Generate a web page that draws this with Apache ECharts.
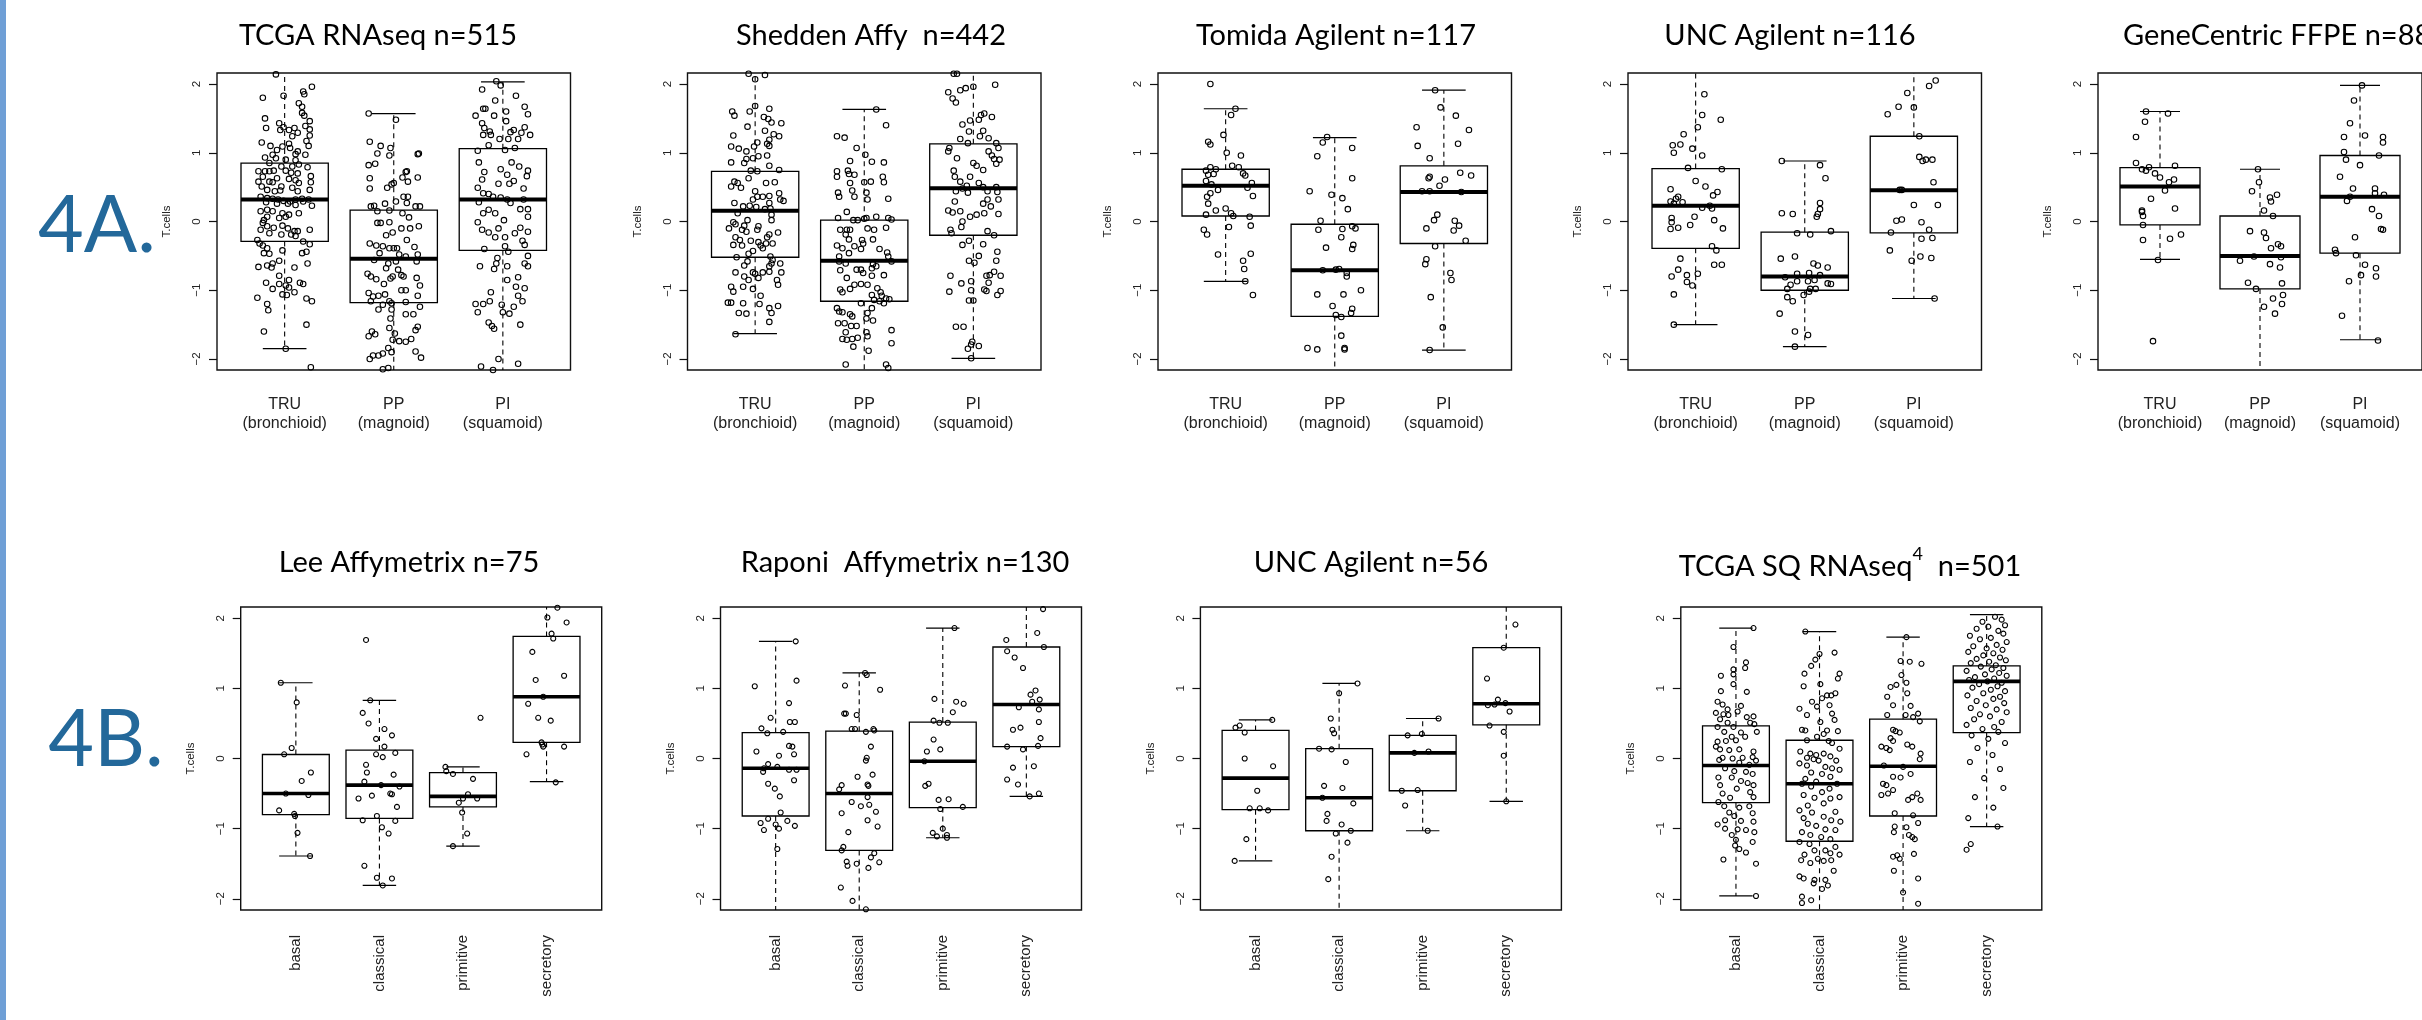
<!DOCTYPE html>
<html><head><meta charset="utf-8">
<script src="https://cdn.jsdelivr.net/npm/echarts@6/dist/echarts.min.js"></script>
<style>html,body{margin:0;padding:0;background:#fff}#c{width:2422px;height:1020px}</style>
</head><body><div id="c"></div><script>
// ================= DATA =================
const groupsA = ['TRU\n(bronchioid)', 'PP\n(magnoid)', 'PI\n(squamoid)'];
const groupsB = ['basal', 'classical', 'primitive', 'secretory'];
const yTicks = [-2, -1, 0, 1, 2];
const yAxisName = 'T.cells';
const titlesA = ['TCGA RNAseq n=515', 'Shedden Affy  n=442', 'Tomida Agilent n=117', 'UNC Agilent n=116', 'GeneCentric FFPE n=88'];
const titlesB = ['Lee Affymetrix n=75', 'Raponi  Affymetrix n=130', 'UNC Agilent n=56', ['TCGA SQ RNAseq', '4', '  n=501']];
const rowLabels = ['4A.', '4B.'];

// box stats per group: [lower whisker, Q1, median, Q3, upper whisker]
const boxA1 = [[-1.85,-0.29,0.32,0.85,2.30],[-2.30,-1.18,-0.54,0.165,1.57],[-2.30,-0.42,0.32,1.06,2.03]];
const boxA2 = [[-1.63,-0.52,0.155,0.73,2.30],[-2.30,-1.16,-0.57,0.02,1.63],[-1.99,-0.20,0.485,1.13,2.30]];
const boxA3 = [[-0.87,0.08,0.52,0.76,1.64],[-2.30,-1.38,-0.71,-0.04,1.22],[-1.87,-0.32,0.43,0.81,1.91]];
const boxA4 = [[-1.50,-0.39,0.23,0.77,2.30],[-1.82,-1.00,-0.80,-0.155,0.88],[-1.12,-0.165,0.455,1.24,2.30]];
const boxA5 = [[-0.55,-0.05,0.51,0.785,1.60],[-2.30,-0.98,-0.50,0.08,0.76],[-1.72,-0.46,0.36,0.96,1.98]];
const boxB1 = [[-1.39,-0.80,-0.50,0.057,1.08],[-1.81,-0.855,-0.38,0.12,0.83],[-1.25,-0.69,-0.54,-0.20,-0.12],[-0.33,0.23,0.88,1.74,2.30]];
const boxB2 = [[-2.30,-0.82,-0.14,0.37,1.67],[-2.30,-1.31,-0.50,0.39,1.22],[-1.13,-0.70,-0.04,0.52,1.86],[-0.54,0.17,0.77,1.59,2.30]];
const boxB3 = [[-1.46,-0.73,-0.28,0.40,0.55],[-2.30,-1.03,-0.56,0.14,1.07],[-1.03,-0.46,0.08,0.33,0.57],[-0.61,0.48,0.78,1.58,2.30]];
const boxB4 = [[-1.96,-0.63,-0.10,0.465,1.86],[-2.30,-1.18,-0.36,0.26,1.81],[-2.30,-0.82,-0.11,0.56,1.73],[-0.97,0.37,1.10,1.32,2.05]];

// jittered points per group: [jitter offset from group centre, T.cells value]
const ptsA1_TRU = [[-0.08,2.14],[-0.01,1.83],[-0.20,1.80],[0.25,1.96],[0.17,1.89],[0.18,1.85],[0.13,1.72],[0.16,1.67],[0.16,1.58],[-0.18,1.50],[0.18,1.54],[0.23,1.46],[-0.05,1.43],[-0.01,1.37],[-0.17,1.36],[0.09,1.36],[0.19,1.39],[0.23,1.34],[0.04,1.33],[-0.04,1.33],[0.12,1.29],[0.23,1.25],[0.07,1.24],[0.20,1.17],[-0.21,1.15],[0.04,1.13],[-0.13,1.10],[-0.02,1.09],[0.22,1.10],[0.05,1.07],[-0.07,1.04],[0.12,1.02],[-0.11,0.97],[0.10,0.98],[0.19,0.97],[-0.18,0.93],[-0.08,0.92],[0.01,0.90],[0.10,0.89],[-0.14,0.85],[0.13,0.83],[-0.03,0.80],[0.07,0.80],[0.21,0.79],[-0.24,0.73],[-0.18,0.73],[-0.14,0.73],[-0.10,0.74],[0.01,0.74],[0.06,0.71],[0.12,0.70],[0.24,0.66],[-0.20,0.65],[-0.07,0.63],[0.04,0.62],[0.10,0.60],[-0.24,0.58],[-0.14,0.58],[-0.11,0.57],[0.13,0.56],[0.24,0.57],[-0.21,0.51],[-0.03,0.51],[0.07,0.49],[-0.16,0.46],[-0.09,0.44],[-0.04,0.45],[0.12,0.44],[0.23,0.46],[-0.22,0.36],[-0.16,0.34],[-0.11,0.33],[-0.06,0.32],[-0.01,0.30],[0.05,0.29],[0.10,0.32],[0.16,0.33],[0.22,0.32],[-0.17,0.28],[0.03,0.26],[0.17,0.29],[0.25,0.23],[-0.07,0.26],[0.10,0.24],[-0.22,0.15],[-0.16,0.17],[-0.11,0.15],[-0.02,0.12],[0.04,0.10],[0.13,0.12],[-0.16,0.07],[-0.05,0.05],[-0.19,0.02],[0.01,0.07],[-0.20,-0.02],[-0.16,-0.07],[-0.10,-0.09],[-0.02,-0.06],[0.03,-0.10],[0.09,-0.14],[0.12,-0.14],[0.23,-0.12],[-0.22,-0.12],[-0.14,-0.17],[-0.03,-0.19],[0.06,-0.19],[0.10,-0.21],[-0.25,-0.27],[-0.23,-0.32],[-0.20,-0.35],[-0.16,-0.39],[0.17,-0.29],[0.23,-0.33],[-0.02,-0.42],[-0.19,-0.46],[-0.14,-0.47],[0.16,-0.46],[0.20,-0.44],[-0.05,-0.57],[-0.11,-0.61],[-0.16,-0.64],[-0.24,-0.66],[-0.12,-0.67],[0.09,-0.67],[0.21,-0.61],[-0.05,-0.79],[-0.17,-0.89],[0.04,-0.85],[-0.05,-0.91],[0.01,-0.93],[0.14,-0.89],[0.17,-0.91],[-0.11,-0.98],[0.04,-0.96],[-0.02,-1.06],[0.09,-1.03],[-0.25,-1.11],[0.02,-1.07],[0.20,-1.12],[0.25,-1.16],[-0.16,-1.20],[-0.15,-1.29],[0.20,-1.50],[-0.19,-1.60],[0.01,-1.85],[0.24,-2.12]];
const ptsA1_PP = [[-0.23,1.57],[0.02,1.48],[-0.22,1.16],[-0.12,1.10],[-0.03,1.07],[-0.15,0.99],[-0.04,0.96],[0.22,0.98],[0.23,0.99],[-0.23,0.82],[-0.17,0.84],[0.11,0.72],[0.12,0.73],[-0.22,0.63],[0.08,0.64],[0.22,0.64],[0.13,0.58],[-0.22,0.48],[-0.06,0.49],[-0.02,0.54],[0.00,0.56],[0.09,0.36],[0.13,0.36],[-0.21,0.22],[-0.18,0.23],[-0.08,0.26],[0.02,0.29],[0.12,0.27],[0.20,0.22],[0.24,0.22],[-0.15,0.15],[0.08,0.12],[-0.04,0.16],[0.14,0.06],[-0.15,-0.02],[-0.12,-0.02],[-0.04,-0.01],[0.07,-0.10],[0.15,-0.10],[0.23,-0.07],[-0.01,-0.16],[-0.07,-0.20],[0.12,-0.27],[-0.22,-0.32],[-0.16,-0.35],[-0.10,-0.36],[-0.04,-0.39],[0.00,-0.39],[0.03,-0.39],[0.19,-0.37],[-0.13,-0.46],[0.05,-0.48],[0.11,-0.51],[0.22,-0.48],[-0.18,-0.56],[-0.05,-0.61],[0.02,-0.58],[0.21,-0.58],[-0.07,-0.68],[0.04,-0.70],[-0.24,-0.76],[-0.21,-0.80],[-0.16,-0.84],[-0.03,-0.83],[-0.01,-0.80],[0.07,-0.78],[0.09,-0.80],[0.21,-0.82],[-0.09,-0.91],[0.07,-1.00],[0.11,-1.00],[0.24,-0.93],[-0.23,-1.04],[-0.19,-1.09],[-0.14,-1.08],[-0.08,-1.06],[-0.21,-1.16],[-0.04,-1.16],[-0.02,-1.19],[0.11,-1.17],[0.22,-1.08],[0.24,-1.24],[-0.14,-1.28],[-0.02,-1.28],[-0.10,-1.21],[0.11,-1.35],[0.18,-1.35],[-0.03,-1.41],[0.20,-1.58],[0.22,-1.53],[-0.04,-1.55],[-0.20,-1.60],[-0.17,-1.64],[-0.23,-1.67],[0.01,-1.63],[-0.01,-1.72],[0.11,-1.75],[0.16,-1.71],[0.05,-1.74],[-0.05,-1.84],[-0.02,-1.90],[-0.10,-1.92],[-0.14,-1.95],[-0.19,-1.95],[-0.22,-2.00],[0.20,-1.89],[0.25,-1.98],[-0.05,-2.13],[-0.10,-2.15]];
const ptsA1_PI = [[-0.06,2.04],[-0.02,1.98],[-0.19,1.92],[0.12,1.83],[-0.07,1.76],[-0.18,1.64],[-0.16,1.64],[0.20,1.67],[0.03,1.60],[-0.25,1.54],[-0.08,1.54],[0.23,1.56],[-0.19,1.43],[0.03,1.46],[-0.17,1.36],[-0.12,1.31],[0.10,1.33],[0.20,1.37],[-0.18,1.26],[-0.11,1.26],[-0.03,1.20],[0.05,1.20],[0.14,1.20],[0.25,1.26],[0.17,1.29],[0.07,1.30],[-0.13,1.11],[0.02,1.04],[0.11,1.07],[-0.23,1.03],[-0.22,0.86],[0.08,0.86],[0.15,0.80],[0.23,0.74],[-0.02,0.76],[-0.17,0.72],[0.04,0.68],[-0.19,0.61],[0.22,0.66],[0.10,0.59],[-0.04,0.55],[0.06,0.55],[-0.23,0.49],[0.19,0.48],[-0.18,0.41],[-0.13,0.40],[-0.09,0.36],[-0.02,0.35],[0.04,0.32],[0.19,0.32],[-0.22,0.28],[0.07,0.27],[-0.13,0.17],[0.16,0.18],[0.23,0.18],[-0.18,0.12],[-0.07,0.12],[0.01,0.02],[0.23,0.07],[-0.23,-0.01],[-0.04,-0.10],[0.16,-0.09],[0.23,-0.15],[-0.19,-0.12],[-0.13,-0.16],[-0.07,-0.23],[0.02,-0.23],[0.11,-0.17],[0.18,-0.28],[0.20,-0.34],[-0.17,-0.40],[0.02,-0.36],[0.05,-0.44],[-0.05,-0.53],[0.23,-0.50],[0.20,-0.61],[-0.06,-0.61],[-0.21,-0.65],[-0.08,-0.69],[0.04,-0.65],[0.23,-0.65],[0.14,-0.81],[0.04,-0.85],[0.12,-0.95],[0.20,-0.97],[-0.11,-1.03],[0.14,-1.08],[-0.25,-1.20],[-0.18,-1.20],[-0.12,-1.16],[-0.01,-1.21],[0.18,-1.16],[-0.23,-1.32],[0.00,-1.32],[0.06,-1.34],[0.10,-1.24],[-0.13,-1.47],[-0.10,-1.52],[-0.08,-1.56],[0.16,-1.50],[-0.04,-2.00],[-0.20,-2.11],[0.14,-2.07],[-0.09,-2.16]];

const ptsA2_TRU = [[-0.06,2.15],[0.09,2.13],[0.00,2.07],[0.00,1.68],[0.13,1.64],[-0.21,1.60],[-0.19,1.54],[-0.05,1.60],[0.08,1.52],[0.12,1.49],[0.15,1.44],[0.24,1.43],[-0.07,1.38],[0.09,1.32],[-0.20,1.25],[0.17,1.27],[0.22,1.24],[0.13,1.19],[0.11,1.13],[0.02,1.15],[-0.22,1.09],[-0.15,1.06],[-0.01,1.09],[0.13,1.10],[-0.08,1.02],[0.03,0.95],[0.11,0.96],[-0.02,0.92],[-0.08,0.91],[-0.22,0.86],[-0.10,0.85],[0.13,0.81],[0.22,0.75],[-0.04,0.74],[0.02,0.73],[-0.06,0.63],[-0.19,0.58],[-0.16,0.56],[-0.22,0.51],[0.10,0.56],[0.18,0.57],[-0.13,0.49],[0.00,0.44],[0.22,0.41],[0.02,0.36],[0.07,0.36],[0.13,0.37],[0.23,0.32],[0.26,0.30],[-0.19,0.27],[-0.02,0.32],[0.13,0.27],[-0.11,0.22],[-0.05,0.23],[0.01,0.21],[0.09,0.18],[0.14,0.19],[-0.16,0.12],[0.15,0.10],[-0.07,0.02],[-0.20,-0.01],[-0.18,-0.04],[-0.10,-0.06],[0.03,-0.07],[0.15,0.02],[-0.24,-0.10],[-0.12,-0.12],[-0.08,-0.15],[0.02,-0.12],[0.21,-0.16],[-0.18,-0.23],[0.13,-0.19],[0.11,-0.23],[-0.14,-0.27],[-0.04,-0.28],[0.03,-0.30],[0.10,-0.32],[-0.20,-0.34],[-0.12,-0.35],[0.05,-0.35],[0.07,-0.39],[0.16,-0.32],[-0.02,-0.43],[-0.06,-0.47],[0.14,-0.51],[-0.17,-0.52],[0.16,-0.56],[-0.07,-0.58],[0.15,-0.61],[0.23,-0.61],[-0.10,-0.64],[0.13,-0.65],[-0.18,-0.74],[-0.02,-0.74],[0.00,-0.76],[0.07,-0.74],[0.13,-0.73],[0.24,-0.74],[-0.10,-0.80],[-0.06,-0.85],[0.03,-0.82],[0.20,-0.85],[0.21,-0.92],[-0.11,-0.95],[-0.02,-0.98],[-0.22,-0.95],[-0.20,-1.02],[0.05,-1.08],[-0.25,-1.18],[-0.22,-1.18],[-0.11,-1.19],[0.04,-1.20],[0.21,-1.23],[0.13,-1.26],[0.15,-1.33],[-0.15,-1.33],[-0.08,-1.34],[0.13,-1.46],[-0.18,-1.64]];
const ptsA2_PP = [[0.11,1.63],[0.20,1.40],[-0.25,1.24],[-0.18,1.22],[-0.07,1.07],[0.01,0.97],[-0.13,0.88],[0.07,0.87],[0.18,0.86],[-0.25,0.73],[-0.15,0.74],[-0.25,0.65],[-0.14,0.69],[-0.09,0.68],[0.17,0.65],[-0.13,0.56],[0.00,0.57],[0.06,0.58],[0.18,0.57],[-0.24,0.42],[-0.23,0.36],[-0.11,0.45],[-0.09,0.36],[0.02,0.42],[0.03,0.32],[0.22,0.33],[-0.16,0.14],[0.02,0.05],[-0.10,0.02],[-0.06,0.02],[0.00,0.04],[0.11,0.07],[0.22,0.05],[0.25,0.03],[-0.24,0.05],[0.20,-0.09],[-0.16,-0.12],[-0.13,-0.12],[0.03,-0.10],[0.09,-0.12],[-0.22,-0.12],[-0.17,-0.19],[-0.14,-0.26],[-0.02,-0.27],[0.08,-0.26],[-0.01,-0.32],[-0.25,-0.35],[-0.20,-0.39],[-0.09,-0.36],[-0.03,-0.40],[0.14,-0.40],[0.21,-0.45],[-0.14,-0.46],[-0.23,-0.51],[0.22,-0.51],[0.25,-0.58],[-0.23,-0.58],[-0.17,-0.61],[0.08,-0.62],[0.11,-0.65],[0.07,-0.68],[-0.07,-0.70],[-0.03,-0.70],[-0.22,-0.71],[-0.01,-0.75],[0.18,-0.78],[-0.16,-0.82],[0.07,-0.79],[0.03,-0.92],[-0.03,-0.91],[-0.09,-0.92],[-0.13,-0.98],[-0.22,-0.99],[-0.20,-1.03],[0.12,-0.97],[0.15,-1.03],[0.16,-1.08],[0.20,-1.12],[0.07,-1.07],[-0.03,-1.19],[0.09,-1.14],[0.14,-1.16],[0.18,-1.19],[0.23,-1.13],[-0.25,-1.26],[0.07,-1.26],[-0.23,-1.31],[-0.20,-1.32],[-0.13,-1.35],[0.03,-1.33],[0.02,-1.41],[0.08,-1.44],[-0.11,-1.38],[-0.24,-1.48],[-0.18,-1.48],[-0.12,-1.52],[-0.07,-1.52],[0.02,-1.61],[-0.17,-1.61],[0.25,-1.58],[0.03,-1.67],[-0.16,-1.72],[-0.11,-1.71],[-0.20,-1.71],[-0.06,-1.69],[0.25,-1.77],[-0.10,-1.82],[0.04,-1.88],[-0.17,-2.08],[0.20,-2.08],[0.22,-2.13]];
const ptsA2_PI = [[-0.18,2.15],[-0.15,2.15],[0.19,2.17],[0.20,1.99],[0.00,1.96],[-0.07,1.94],[-0.12,1.91],[-0.23,1.88],[-0.19,1.79],[-0.16,1.73],[0.07,1.55],[0.10,1.57],[0.17,1.52],[-0.03,1.47],[0.05,1.48],[-0.10,1.41],[-0.04,1.31],[0.09,1.32],[0.06,1.24],[-0.12,1.20],[-0.05,1.14],[0.14,1.21],[0.21,1.14],[0.23,1.07],[-0.22,1.07],[-0.23,1.02],[0.14,1.02],[0.17,0.96],[0.19,0.91],[0.24,0.90],[0.21,0.84],[-0.15,0.92],[0.00,0.85],[0.03,0.81],[0.09,0.75],[-0.18,0.74],[-0.17,0.65],[-0.03,0.65],[-0.12,0.58],[0.05,0.56],[-0.06,0.52],[-0.10,0.48],[0.09,0.50],[0.21,0.50],[-0.16,0.44],[-0.05,0.42],[0.13,0.44],[0.22,0.43],[-0.17,0.29],[0.09,0.26],[0.23,0.32],[0.13,0.32],[0.16,0.22],[-0.23,0.16],[-0.19,0.13],[-0.12,0.15],[0.03,0.10],[0.10,0.12],[0.23,0.11],[-0.03,0.07],[-0.10,0.00],[-0.21,-0.12],[-0.20,-0.17],[-0.11,-0.08],[0.13,-0.14],[0.19,-0.20],[-0.04,-0.28],[-0.10,-0.34],[0.09,-0.33],[0.22,-0.44],[0.05,-0.50],[-0.04,-0.57],[0.01,-0.60],[0.21,-0.57],[0.19,-0.73],[0.15,-0.78],[0.12,-0.79],[-0.21,-0.79],[0.25,-0.79],[0.14,-0.89],[-0.11,-0.90],[-0.02,-0.87],[0.10,-0.99],[0.12,-1.01],[-0.02,-1.00],[-0.22,-1.02],[0.25,-1.01],[0.22,-1.07],[-0.04,-1.15],[0.00,-1.15],[-0.16,-1.53],[-0.09,-1.53],[-0.01,-1.75],[-0.02,-1.79],[0.05,-1.81],[-0.05,-1.85],[-0.02,-1.99]];

const ptsA3_TRU = [[-0.14,2.00],[0.09,1.64],[0.05,1.55],[-0.02,1.26],[-0.16,1.16],[-0.14,1.12],[0.01,1.00],[0.14,0.96],[0.06,0.81],[0.12,0.79],[-0.14,0.79],[-0.09,0.76],[-0.18,0.74],[-0.16,0.68],[0.16,0.70],[0.18,0.67],[-0.11,0.69],[-0.18,0.59],[-0.13,0.54],[0.24,0.56],[0.20,0.49],[-0.07,0.46],[-0.14,0.41],[0.25,0.37],[-0.17,0.36],[-0.16,0.26],[0.00,0.19],[-0.09,0.16],[0.05,0.12],[0.07,0.08],[-0.18,0.10],[0.22,0.07],[0.03,-0.08],[0.23,-0.06],[-0.20,-0.12],[-0.17,-0.19],[0.23,-0.47],[-0.07,-0.48],[0.16,-0.57],[0.17,-0.69],[0.18,-0.87],[0.25,-1.07]];
const ptsA3_PP = [[-0.07,1.23],[-0.11,1.15],[0.16,1.07],[-0.16,0.95],[0.16,0.63],[-0.23,0.44],[-0.03,0.39],[0.07,0.34],[0.12,0.18],[-0.13,0.01],[-0.15,-0.12],[0.07,-0.11],[0.16,-0.07],[0.19,-0.10],[0.06,-0.23],[0.17,-0.34],[0.16,-0.40],[-0.08,-0.38],[-0.11,-0.71],[0.01,-0.70],[0.04,-0.69],[0.11,-0.75],[0.11,-0.80],[-0.16,-1.06],[0.08,-1.06],[0.24,-1.00],[-0.02,-1.23],[0.16,-1.27],[0.15,-1.33],[0.01,-1.36],[0.06,-1.39],[0.06,-1.66],[-0.25,-1.84],[-0.16,-1.86],[0.09,-1.84],[0.09,-1.86]];
const ptsA3_PI = [[-0.08,1.91],[-0.03,1.66],[0.11,1.54],[0.23,1.33],[-0.25,1.37],[-0.24,1.10],[0.13,1.13],[-0.13,0.92],[0.15,0.71],[0.25,0.67],[-0.13,0.65],[-0.14,0.63],[0.01,0.61],[-0.04,0.52],[-0.20,0.44],[-0.13,0.44],[0.16,0.43],[-0.06,0.10],[-0.09,0.02],[-0.16,-0.10],[0.10,0.01],[0.14,-0.06],[0.09,-0.13],[0.20,-0.28],[-0.08,-0.36],[-0.16,-0.55],[-0.17,-0.62],[0.06,-0.75],[0.07,-0.85],[-0.12,-1.10],[-0.01,-1.54],[-0.13,-1.87]];

const ptsA4_TRU = [[0.08,1.85],[0.06,1.55],[0.23,1.48],[0.02,1.37],[-0.11,1.27],[-0.21,1.11],[-0.14,1.12],[-0.03,1.06],[-0.20,1.00],[0.06,0.96],[-0.07,0.78],[0.24,0.76],[0.00,0.59],[0.09,0.51],[-0.23,0.47],[0.20,0.43],[0.16,0.38],[-0.16,0.36],[-0.18,0.33],[-0.23,0.29],[-0.20,0.26],[-0.12,0.28],[0.13,0.23],[0.15,0.19],[0.06,0.20],[-0.01,0.07],[-0.22,0.05],[-0.22,-0.01],[0.17,0.02],[-0.23,-0.11],[-0.16,-0.09],[-0.05,-0.05],[0.25,-0.10],[0.15,-0.36],[0.19,-0.42],[0.17,-0.63],[0.24,-0.63],[-0.14,-0.54],[-0.16,-0.70],[-0.08,-0.78],[0.02,-0.76],[-0.22,-0.80],[-0.08,-0.88],[-0.03,-0.93],[-0.20,-1.06],[-0.20,-1.50]];
const ptsA4_PP = [[-0.21,0.88],[0.14,0.82],[0.19,0.63],[0.14,0.27],[0.14,0.18],[0.12,0.11],[0.11,0.07],[-0.21,0.12],[-0.11,0.11],[-0.07,-0.17],[0.05,-0.19],[0.24,-0.14],[-0.22,-0.54],[-0.09,-0.51],[0.08,-0.61],[0.12,-0.64],[0.21,-0.67],[-0.07,-0.76],[0.04,-0.75],[0.14,-0.78],[-0.18,-0.81],[-0.07,-0.87],[0.03,-0.87],[0.09,-0.85],[0.21,-0.90],[0.24,-0.91],[-0.13,-0.92],[-0.16,-0.98],[0.05,-0.98],[0.10,-0.98],[0.04,-1.02],[-0.01,-1.07],[-0.16,-1.10],[-0.11,-1.16],[-0.23,-1.34],[-0.09,-1.60],[0.03,-1.65],[-0.09,-1.82]];
const ptsA4_PI = [[0.20,2.05],[0.14,1.97],[-0.06,1.87],[-0.14,1.67],[-0.24,1.56],[0.00,1.66],[0.05,1.24],[0.05,0.94],[0.08,0.88],[0.11,0.90],[0.17,0.90],[0.18,0.57],[-0.13,0.46],[-0.11,0.46],[0.00,0.24],[0.22,0.24],[-0.16,0.01],[-0.11,0.03],[0.07,-0.01],[0.14,-0.12],[-0.21,-0.16],[0.07,-0.25],[0.17,-0.24],[-0.22,-0.42],[0.06,-0.51],[0.16,-0.53],[-0.02,-0.57],[0.19,-1.12]];

const ptsA5_TRU = [[-0.14,1.60],[0.08,1.57],[-0.15,1.45],[-0.24,1.23],[-0.24,0.85],[-0.18,0.76],[-0.14,0.74],[-0.11,0.79],[-0.05,0.70],[0.00,0.64],[0.15,0.81],[0.09,0.57],[0.14,0.61],[0.05,0.45],[-0.09,0.33],[-0.18,0.16],[-0.18,0.14],[-0.17,0.08],[0.15,0.19],[-0.17,-0.05],[-0.17,-0.27],[0.10,-0.25],[0.21,-0.19],[-0.02,-0.56],[-0.07,-1.74]];
const ptsA5_PP = [[-0.02,0.76],[-0.01,0.57],[-0.08,0.44],[0.10,0.35],[0.11,0.29],[0.17,0.39],[0.04,0.16],[0.13,0.08],[-0.10,-0.14],[0.04,-0.16],[0.06,-0.24],[0.18,-0.33],[0.21,-0.36],[0.11,-0.39],[-0.20,-0.57],[-0.06,-0.51],[0.21,-0.52],[0.10,-0.62],[0.20,-0.67],[-0.12,-0.89],[0.22,-0.90],[-0.04,-0.98],[0.23,-1.07],[0.13,-1.12],[0.22,-1.20],[0.04,-1.24],[0.15,-1.34]];
const ptsA5_PI = [[0.02,1.98],[-0.06,1.76],[-0.10,1.43],[-0.16,1.23],[0.05,1.25],[0.23,1.23],[0.23,1.15],[-0.16,1.01],[-0.14,0.90],[0.19,0.96],[0.00,0.82],[-0.20,0.65],[-0.07,0.48],[0.15,0.48],[0.15,0.41],[0.24,0.39],[-0.10,0.36],[-0.13,0.30],[0.12,0.18],[0.19,0.08],[0.21,-0.11],[0.23,-0.12],[-0.05,-0.23],[-0.25,-0.41],[-0.24,-0.46],[-0.04,-0.49],[0.05,-0.63],[0.16,-0.68],[0.01,-0.78],[0.16,-0.80],[-0.11,-0.87],[-0.18,-1.37],[0.18,-1.73]];

const ptsB1_basal = [[-0.18,1.08],[0.01,0.80],[-0.05,0.15],[-0.14,0.06],[0.18,-0.20],[0.07,-0.32],[-0.12,-0.50],[0.15,-0.52],[-0.20,-0.74],[-0.02,-0.79],[-0.01,-0.82],[0.02,-1.06],[0.17,-1.39]];
const ptsB1_classical = [[-0.16,1.69],[-0.11,0.83],[-0.20,0.65],[-0.13,0.50],[0.06,0.42],[0.15,0.33],[-0.04,0.28],[0.06,0.17],[-0.04,0.06],[0.04,0.02],[0.19,0.08],[-0.16,-0.09],[-0.15,-0.20],[0.17,-0.23],[-0.18,-0.33],[0.02,-0.38],[0.24,-0.40],[0.13,-0.50],[0.15,-0.51],[-0.09,-0.53],[-0.25,-0.57],[0.21,-0.69],[-0.03,-0.82],[-0.20,-0.88],[0.19,-0.89],[0.03,-0.98],[0.11,-1.07],[-0.18,-1.53],[-0.03,-1.70],[0.15,-1.71],[0.04,-1.81]];
const ptsB1_primitive = [[0.21,0.58],[-0.21,-0.12],[-0.20,-0.18],[-0.12,-0.22],[0.12,-0.29],[0.06,-0.51],[0.00,-0.57],[0.17,-0.57],[-0.05,-0.63],[-0.01,-0.77],[0.05,-1.07],[-0.12,-1.25]];
const ptsB1_secretory = [[0.13,2.15],[0.01,2.01],[0.24,1.94],[0.06,1.78],[0.08,1.71],[-0.17,1.52],[0.21,1.18],[-0.13,1.12],[-0.04,0.88],[-0.22,0.78],[-0.10,0.58],[0.05,0.54],[-0.06,0.23],[-0.05,0.20],[-0.04,0.17],[0.21,0.17],[-0.24,0.06],[0.11,-0.34]];

const ptsB2_basal = [[0.24,1.67],[-0.25,1.03],[0.25,1.11],[0.16,0.79],[-0.06,0.58],[0.17,0.52],[0.23,0.52],[-0.17,0.43],[-0.10,0.36],[0.09,0.38],[-0.23,0.10],[0.04,0.04],[0.22,0.06],[-0.09,-0.08],[-0.14,-0.14],[0.02,-0.12],[0.16,-0.16],[0.25,-0.16],[0.16,0.18],[0.20,0.17],[-0.15,-0.19],[0.22,-0.31],[-0.09,-0.36],[-0.01,-0.43],[0.05,-0.54],[0.06,-0.77],[-0.09,-0.86],[-0.18,-0.92],[0.00,-0.94],[0.14,-0.89],[0.23,-0.96],[-0.14,-1.02],[0.04,-1.00],[0.02,-1.29]];
const ptsB2_classical = [[0.07,1.22],[0.09,1.19],[-0.17,1.04],[0.25,0.98],[-0.18,0.64],[-0.16,0.64],[-0.03,0.62],[-0.09,0.42],[-0.05,0.42],[0.08,0.38],[0.17,0.42],[0.18,0.40],[0.14,0.17],[0.09,0.01],[0.08,-0.03],[-0.02,-0.26],[0.16,-0.23],[-0.21,-0.38],[0.10,-0.37],[0.11,-0.39],[-0.24,-0.44],[0.10,-0.55],[-0.09,-0.62],[0.02,-0.68],[0.12,-0.66],[0.20,-0.76],[-0.21,-0.78],[0.10,-0.88],[0.22,-0.97],[-0.13,-1.05],[-0.19,-1.26],[-0.21,-1.31],[0.18,-1.35],[0.14,-1.41],[-0.15,-1.47],[-0.14,-1.53],[-0.03,-1.50],[0.24,-1.48],[0.11,-1.56],[-0.22,-1.84],[-0.08,-2.03],[0.08,-2.15]];
const ptsB2_primitive = [[0.14,1.86],[-0.10,0.85],[0.16,0.81],[0.25,0.78],[0.12,0.66],[-0.11,0.54],[-0.04,0.51],[0.06,0.51],[-0.11,0.27],[-0.03,0.13],[-0.19,0.10],[-0.22,-0.04],[-0.17,-0.36],[-0.21,-0.39],[-0.05,-0.59],[0.07,-0.58],[0.24,-0.69],[-0.03,-0.72],[0.00,-1.00],[-0.12,-1.06],[-0.07,-1.11],[0.05,-1.09],[0.05,-1.13]];
const ptsB2_secretory = [[0.20,2.13],[0.13,1.79],[-0.24,1.69],[0.21,1.59],[-0.23,1.53],[-0.14,1.44],[-0.04,1.29],[0.11,0.97],[0.05,0.91],[0.16,0.84],[0.07,0.81],[-0.09,0.73],[0.15,0.70],[0.15,0.52],[-0.16,0.41],[-0.07,0.44],[0.17,0.29],[0.14,0.18],[-0.23,0.17],[-0.04,0.13],[-0.16,-0.13],[0.09,-0.11],[-0.23,-0.30],[-0.10,-0.37],[0.15,-0.50],[0.04,-0.54]];

const ptsB3_basal = [[0.20,0.55],[-0.24,0.44],[-0.19,0.47],[-0.13,0.37],[-0.13,0.00],[0.21,-0.11],[0.02,-0.46],[-0.07,-0.71],[0.05,-0.71],[0.15,-0.74],[-0.11,-1.15],[-0.25,-1.46]];
const ptsB3_classical = [[0.22,1.07],[0.00,0.93],[-0.10,0.57],[-0.08,0.41],[-0.06,0.36],[-0.24,0.14],[-0.09,0.13],[0.08,-0.05],[-0.18,-0.39],[0.04,-0.42],[-0.20,-0.56],[0.17,-0.64],[-0.14,-0.79],[-0.15,-0.89],[0.03,-0.94],[0.14,-1.03],[-0.04,-1.07],[0.10,-1.20],[-0.09,-1.40],[-0.13,-1.72]];
const ptsB3_primitive = [[0.19,0.57],[-0.18,0.33],[-0.01,0.35],[-0.10,0.08],[0.07,0.10],[-0.25,-0.46],[-0.06,-0.45],[-0.21,-0.67],[0.06,-1.03]];
const ptsB3_secretory = [[0.11,1.91],[-0.03,1.58],[-0.23,1.14],[-0.10,0.84],[-0.22,0.76],[-0.14,0.77],[-0.01,0.79],[0.04,0.67],[-0.20,0.47],[-0.03,0.38],[-0.03,0.04],[0.00,-0.61]];

const ptsB4_basal = [[0.21,1.86],[-0.03,1.59],[0.12,1.37],[0.11,1.29],[-0.03,1.27],[-0.18,1.18],[-0.03,1.20],[-0.03,1.06],[0.13,0.95],[-0.18,0.96],[-0.22,0.81],[-0.16,0.77],[-0.10,0.70],[0.06,0.75],[-0.24,0.65],[-0.15,0.63],[-0.09,0.62],[0.02,0.67],[0.13,0.59],[0.21,0.60],[-0.19,0.56],[-0.10,0.51],[-0.03,0.45],[0.17,0.51],[0.22,0.49],[-0.22,0.45],[-0.14,0.38],[0.06,0.37],[0.25,0.38],[-0.05,0.31],[0.11,0.31],[-0.22,0.24],[-0.12,0.25],[0.00,0.26],[-0.24,0.17],[-0.19,0.13],[-0.08,0.12],[0.04,0.13],[0.21,0.10],[-0.16,0.01],[-0.04,0.00],[0.08,0.01],[0.20,0.02],[-0.20,-0.02],[0.04,-0.06],[0.16,-0.09],[0.24,-0.03],[-0.13,-0.14],[-0.02,-0.18],[0.12,-0.19],[0.20,-0.22],[-0.21,-0.27],[-0.05,-0.27],[0.06,-0.32],[0.14,-0.35],[-0.19,-0.38],[0.21,-0.38],[0.01,-0.43],[0.17,-0.48],[-0.16,-0.50],[-0.07,-0.56],[0.21,-0.55],[-0.21,-0.62],[-0.14,-0.68],[0.04,-0.70],[0.16,-0.68],[-0.08,-0.77],[-0.02,-0.82],[0.20,-0.78],[-0.13,-0.88],[0.06,-0.89],[0.21,-0.90],[-0.22,-0.94],[-0.13,-1.00],[0.02,-1.01],[0.12,-1.02],[0.22,-1.05],[-0.05,-1.09],[0.00,-1.16],[-0.01,-1.24],[0.20,-1.19],[0.04,-1.29],[0.12,-1.34],[0.24,-1.50],[-0.15,-1.44],[0.24,-1.96]];
const ptsB4_classical = [[-0.17,1.81],[0.18,1.51],[0.00,1.49],[-0.05,1.41],[-0.10,1.32],[-0.18,1.21],[0.24,1.21],[0.22,1.14],[0.01,1.06],[-0.19,1.03],[0.19,0.93],[0.14,0.90],[0.09,0.90],[0.03,0.86],[-0.09,0.81],[0.12,0.76],[-0.03,0.74],[-0.24,0.71],[0.15,0.64],[-0.15,0.62],[0.01,0.52],[0.18,0.55],[-0.21,0.41],[-0.17,0.40],[0.09,0.40],[0.22,0.39],[0.05,0.35],[-0.03,0.31],[0.11,0.25],[-0.15,0.26],[0.15,0.22],[0.24,0.14],[-0.23,0.10],[-0.11,0.07],[-0.04,0.05],[0.05,0.07],[0.13,0.03],[-0.15,0.01],[-0.07,-0.01],[-0.01,-0.03],[0.20,-0.03],[-0.24,-0.07],[-0.15,-0.10],[0.07,-0.12],[0.15,-0.14],[0.24,-0.16],[-0.10,-0.20],[0.03,-0.22],[0.13,-0.26],[-0.17,-0.29],[-0.04,-0.33],[0.21,-0.36],[-0.21,-0.36],[-0.10,-0.40],[0.12,-0.43],[0.03,-0.48],[-0.19,-0.52],[-0.06,-0.56],[0.13,-0.57],[0.24,-0.55],[-0.14,-0.67],[0.05,-0.64],[-0.24,-0.74],[-0.09,-0.77],[0.19,-0.76],[-0.19,-0.85],[0.05,-0.83],[0.14,-0.88],[0.25,-0.90],[-0.14,-0.93],[-0.04,-0.96],[0.07,-1.01],[0.19,-1.02],[-0.21,-1.05],[-0.11,-1.09],[0.02,-1.12],[0.13,-1.15],[-0.24,-1.19],[-0.12,-1.22],[0.19,-1.26],[-0.06,-1.31],[0.07,-1.31],[-0.18,-1.37],[0.13,-1.35],[0.24,-1.37],[-0.02,-1.43],[0.05,-1.46],[0.14,-1.45],[-0.22,-1.45],[-0.11,-1.49],[0.17,-1.60],[-0.24,-1.68],[-0.19,-1.71],[-0.06,-1.73],[0.07,-1.73],[0.10,-1.81],[0.03,-1.86],[-0.07,-1.78],[-0.21,-1.97],[-0.10,-2.02],[-0.21,-2.06]];
const ptsB4_primitive = [[0.04,1.73],[-0.03,1.39],[0.08,1.38],[0.22,1.35],[-0.02,1.19],[0.04,1.08],[-0.15,1.02],[-0.08,1.05],[-0.19,0.88],[0.05,0.93],[-0.12,0.76],[0.09,0.75],[-0.19,0.62],[0.03,0.62],[0.18,0.64],[0.12,0.59],[0.20,0.53],[-0.12,0.41],[-0.09,0.39],[-0.04,0.37],[-0.15,0.29],[-0.12,0.25],[-0.26,0.17],[-0.20,0.15],[0.05,0.20],[0.11,0.17],[-0.16,0.12],[0.21,0.07],[0.20,-0.01],[-0.23,-0.10],[0.00,-0.12],[-0.12,-0.26],[-0.03,-0.27],[0.09,-0.22],[-0.24,-0.36],[-0.20,-0.38],[-0.12,-0.45],[-0.26,-0.52],[-0.18,-0.50],[0.06,-0.59],[0.17,-0.50],[0.21,-0.59],[0.11,-0.55],[-0.10,-0.78],[0.12,-0.81],[0.18,-0.92],[-0.10,-0.97],[0.04,-0.98],[-0.11,-1.05],[0.07,-1.09],[0.11,-1.12],[0.14,-1.15],[-0.07,-1.38],[-0.12,-1.40],[-0.04,-1.43],[0.13,-1.36],[-0.11,-1.60],[0.18,-1.71],[0.00,-1.91],[0.18,-2.07]];
const ptsB4_secretory = [[0.10,2.02],[0.18,1.98],[-0.05,1.95],[0.22,1.90],[0.02,1.88],[-0.12,1.85],[0.14,1.82],[0.20,1.78],[-0.20,1.75],[0.05,1.72],[-0.08,1.70],[0.24,1.66],[0.12,1.62],[-0.16,1.60],[0.00,1.57],[0.19,1.55],[-0.22,1.52],[0.08,1.50],[-0.04,1.47],[0.16,1.44],[-0.12,1.42],[0.23,1.40],[0.03,1.38],[-0.19,1.36],[0.11,1.33],[-0.07,1.31],[0.20,1.29],[0.06,1.27],[-0.24,1.25],[0.15,1.22],[-0.02,1.20],[0.24,1.18],[-0.14,1.16],[0.09,1.14],[-0.21,1.12],[0.01,1.10],[0.18,1.08],[-0.09,1.06],[0.13,1.03],[-0.17,1.01],[0.05,0.98],[0.22,0.96],[-0.04,0.93],[-0.23,0.90],[0.16,0.88],[0.08,0.85],[-0.12,0.82],[0.21,0.79],[-0.01,0.76],[-0.19,0.72],[0.12,0.70],[0.24,0.66],[-0.08,0.63],[0.04,0.60],[-0.15,0.56],[0.18,0.52],[-0.24,0.48],[0.09,0.45],[-0.05,0.42],[0.14,0.38],[-0.18,0.33],[0.02,0.28],[0.22,0.22],[-0.11,0.15],[0.07,0.05],[-0.20,-0.05],[0.16,-0.15],[-0.03,-0.28],[0.20,-0.42],[-0.14,-0.55],[0.08,-0.70],[-0.22,-0.85],[0.13,-0.97],[-0.19,-1.22],[-0.24,-1.30]];

// ================= LAYOUT / RENDER =================
const panelsA = [
  {box: boxA1, pts: [ptsA1_TRU, ptsA1_PP, ptsA1_PI]},
  {box: boxA2, pts: [ptsA2_TRU, ptsA2_PP, ptsA2_PI]},
  {box: boxA3, pts: [ptsA3_TRU, ptsA3_PP, ptsA3_PI]},
  {box: boxA4, pts: [ptsA4_TRU, ptsA4_PP, ptsA4_PI]},
  {box: boxA5, pts: [ptsA5_TRU, ptsA5_PP, ptsA5_PI]}
];
const panelsB = [
  {box: boxB1, pts: [ptsB1_basal, ptsB1_classical, ptsB1_primitive, ptsB1_secretory]},
  {box: boxB2, pts: [ptsB2_basal, ptsB2_classical, ptsB2_primitive, ptsB2_secretory]},
  {box: boxB3, pts: [ptsB3_basal, ptsB3_classical, ptsB3_primitive, ptsB3_secretory]},
  {box: boxB4, pts: [ptsB4_basal, ptsB4_classical, ptsB4_primitive, ptsB4_secretory]}
];
const rowA = {top: 73, height: 297, width: 353.5, lefts: [217, 687.5, 1158, 1628, 2098], titleY: 36, titleX: [378, 871, 1336, 1790, 2123]};
const rowB = {top: 607, height: 303, width: 361, lefts: [240.7, 720.5, 1200.4, 1680.8], titleY: 563, titleX: [409, 905, 1371, 1850]};
const Y_MIN = -2.16, Y_MAX = 2.16;
const LABEL_FONT = "'Liberation Sans', Arial, sans-serif";
const TITLE_FONT = "Lato, 'Open Sans', sans-serif";

const grids = [], xAxes = [], yAxes = [], series = [];

function boxRenderer(medW) {
  return function (params, api) {
    const x = api.value(0), lo = api.value(1), q1 = api.value(2), med = api.value(3), q3 = api.value(4), hi = api.value(5);
    const c = (a, b) => api.coord([a, b]);
    const ch = [];
    const dash = {stroke: '#000', lineWidth: 1.1, lineDash: [5, 4]};
    const solid = {stroke: '#000', lineWidth: 1.2};
    const hiC = Math.min(hi, Y_MAX), loC = Math.max(lo, Y_MIN);
    let a = c(x, q3), b = c(x, hiC);
    ch.push({type: 'line', shape: {x1: a[0], y1: a[1], x2: b[0], y2: b[1]}, style: dash});
    a = c(x, q1); b = c(x, loC);
    ch.push({type: 'line', shape: {x1: a[0], y1: a[1], x2: b[0], y2: b[1]}, style: dash});
    if (hi <= Y_MAX) { a = c(x - 0.2, hi); b = c(x + 0.2, hi); ch.push({type: 'line', shape: {x1: a[0], y1: a[1], x2: b[0], y2: b[1]}, style: solid}); }
    if (lo >= Y_MIN) { a = c(x - 0.2, lo); b = c(x + 0.2, lo); ch.push({type: 'line', shape: {x1: a[0], y1: a[1], x2: b[0], y2: b[1]}, style: solid}); }
    const p1 = c(x - 0.4, q3), p2 = c(x + 0.4, q1);
    ch.push({type: 'rect', shape: {x: p1[0], y: p1[1], width: p2[0] - p1[0], height: p2[1] - p1[1]}, style: {fill: 'none', stroke: '#000', lineWidth: 1.3}});
    a = c(x - 0.4, med); b = c(x + 0.4, med);
    ch.push({type: 'line', shape: {x1: a[0], y1: a[1], x2: b[0], y2: b[1]}, style: {stroke: '#000', lineWidth: medW}});
    return {type: 'group', children: ch};
  };
}

function addPanel(rect, groups, panel, rowB_) {
  const idx = grids.length;
  const n = groups.length;
  const pad = 0.04 * n;
  grids.push({left: rect.left, top: rect.top, width: rect.width, height: rect.height, show: true, borderColor: '#111', borderWidth: 1.4, backgroundColor: 'transparent'});
  xAxes.push({
    gridIndex: idx, type: 'value', min: 0.5 - pad, max: n + 0.5 + pad,
    axisLine: {show: false}, axisTick: {show: false}, splitLine: {show: false},
    axisLabel: rowB_
      ? {customValues: groups.map((g, i) => i + 1), formatter: v => groups[Math.round(v) - 1], rotate: 90, margin: 25, fontSize: 15, color: '#222', fontFamily: LABEL_FONT}
      : {customValues: groups.map((g, i) => i + 1), formatter: v => groups[Math.round(v) - 1], margin: 25, fontSize: 16, lineHeight: 19, color: '#222', fontFamily: LABEL_FONT}
  });
  yAxes.push({
    gridIndex: idx, type: 'value', min: Y_MIN, max: Y_MAX,
    axisLine: {show: false}, splitLine: {show: false},
    axisTick: {show: true, length: 8, customValues: yTicks, lineStyle: {color: '#111', width: 1.2}},
    axisLabel: {customValues: yTicks, rotate: 90, margin: 14, fontSize: 11.5, color: '#222', fontFamily: LABEL_FONT, formatter: v => (v < 0 ? '\u2212' : '') + Math.abs(v)},
    name: yAxisName, nameLocation: 'middle', nameRotate: 90, nameGap: 44,
    nameTextStyle: {fontSize: 11.5, color: '#222', fontFamily: LABEL_FONT}
  });
  series.push({
    type: 'custom', xAxisIndex: idx, yAxisIndex: idx, clip: true, silent: true, z: 2,
    data: panel.box.map((b, i) => [i + 1].concat(b)),
    renderItem: boxRenderer(rowB_ ? 3.6 : 4)
  });
  const pts = [];
  panel.pts.forEach((g, gi) => g.forEach(p => pts.push([gi + 1 + p[0], p[1]])));
  series.push({
    type: 'scatter', xAxisIndex: idx, yAxisIndex: idx, clip: true, silent: true, z: 3,
    symbol: 'circle', symbolSize: rowB_ ? 5 : 5.5,
    itemStyle: {color: 'rgba(0,0,0,0)', borderColor: '#000', borderWidth: 1.1, opacity: 1},
    data: pts
  });
}

panelsA.forEach((p, i) => addPanel({left: rowA.lefts[i], top: rowA.top, width: rowA.width, height: rowA.height}, groupsA, p, false));
panelsB.forEach((p, i) => addPanel({left: rowB.lefts[i], top: rowB.top, width: rowB.width, height: rowB.height}, groupsB, p, true));

const graphics = [];
graphics.push({type: 'rect', shape: {x: 0, y: 0, width: 6, height: 1020}, style: {fill: '#6f9fd6'}, silent: true});
graphics.push({type: 'text', x: 97, y: 227, style: {text: rowLabels[0], fontSize: 79, fontFamily: TITLE_FONT, fill: '#23689a', align: 'center', verticalAlign: 'middle'}});
graphics.push({type: 'text', x: 106, y: 741, style: {text: rowLabels[1], fontSize: 79, fontFamily: TITLE_FONT, fill: '#23689a', align: 'center', verticalAlign: 'middle'}});
titlesA.forEach((t, i) => {
  const last = i === titlesA.length - 1;
  graphics.push({type: 'text', x: rowA.titleX[i], y: rowA.titleY, style: {text: t, fontSize: 29, fontFamily: TITLE_FONT, fill: '#000', align: last ? 'left' : 'center', verticalAlign: 'middle'}});
});
titlesB.forEach((t, i) => {
  if (Array.isArray(t)) {
    graphics.push({type: 'text', x: rowB.titleX[i], y: rowB.titleY, style: {
      text: '{a|' + t[0] + '}{s|' + t[1] + '}{a|' + t[2] + '}', align: 'center', verticalAlign: 'middle',
      rich: {a: {fontSize: 29, fontFamily: TITLE_FONT, fill: '#000', lineHeight: 36, verticalAlign: 'bottom'}, s: {fontSize: 18, fontFamily: TITLE_FONT, fill: '#000', verticalAlign: 'top', lineHeight: 36}}
    }});
  } else {
    graphics.push({type: 'text', x: rowB.titleX[i], y: rowB.titleY, style: {text: t, fontSize: 29, fontFamily: TITLE_FONT, fill: '#000', align: 'center', verticalAlign: 'middle'}});
  }
});

const chart = echarts.init(document.getElementById('c'), null, {renderer: 'canvas'});
chart.setOption({
  animation: false,
  backgroundColor: '#fff',
  grid: grids, xAxis: xAxes, yAxis: yAxes, series: series,
  graphic: graphics
});
</script></body></html>
